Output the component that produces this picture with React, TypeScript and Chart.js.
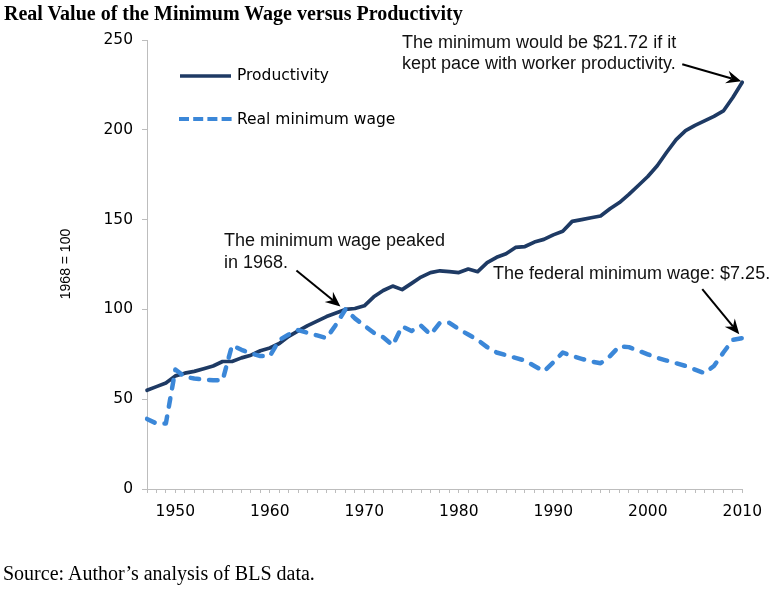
import React, { useEffect, useRef } from 'react';
import { Chart, registerables } from 'chart.js';

Chart.register(...registerables);

const years = [
  1947, 1948, 1949, 1950, 1951, 1952, 1953, 1954, 1955, 1956,
  1957, 1958, 1959, 1960, 1961, 1962, 1963, 1964, 1965, 1966,
  1967, 1968, 1969, 1970, 1971, 1972, 1973, 1974, 1975, 1976,
  1977, 1978, 1979, 1980, 1981, 1982, 1983, 1984, 1985, 1986,
  1987, 1988, 1989, 1990, 1991, 1992, 1993, 1994, 1995, 1996,
  1997, 1998, 1999, 2000, 2001, 2002, 2003, 2004, 2005, 2006,
  2007, 2008, 2009, 2010,
];

const productivity = [
  55, 57, 59, 63, 64.5, 65.5, 67, 68.5, 71, 71,
  73, 74.5, 77, 78.5, 81, 85, 88, 91, 93.5, 96,
  98, 100, 100.5, 102, 107, 110.5, 113, 111, 114.5, 118,
  120.5, 121.5, 121, 120.5, 122.5, 121, 126, 129, 131, 134.5,
  135, 137.5, 139, 141.5, 143.5, 149, 150, 151, 152, 156,
  159.5, 164, 169, 174, 180, 187.5, 194.5, 199.5, 202.5, 205,
  207.5, 210.5, 218, 226.5,
];

const realMinimumWage = [
  39, 36.5, 36.5, 66.5, 62.5, 61.5, 61, 60.5, 60.5, 80,
  77.5, 75.5, 74, 74, 83, 86, 88.5, 87, 85.5, 84,
  91.5, 100, 95, 91, 87, 84.5, 80, 90.5, 88, 91,
  86, 92.5, 92.5, 89, 86, 83, 79, 76, 74.5, 73,
  71.5, 68.5, 65.5, 70.5, 76, 74, 72.5, 71, 70, 74,
  79.5, 79, 77, 75, 73, 71.5, 70, 68.5, 66.5, 64.5,
  68.5, 76, 83, 84,
];

const xLabelYears = [1950, 1960, 1970, 1980, 1990, 2000, 2010];
const yMin = 0;
const yMax = 250;
const yStep = 50;

const seriesNames = ['Productivity', 'Real minimum wage'];
const titleText = 'Real Value of the Minimum Wage versus Productivity';
const sourceText = 'Source: Author\u2019s analysis of BLS data.';
const yAxisTitle = '1968 = 100';
const noteProductivity = ['The minimum would be $21.72 if it', 'kept pace with worker productivity.'];
const notePeak = ['The minimum wage peaked', 'in 1968.'];
const noteFederal = ['The federal minimum wage: $7.25.'];

const NAVY = '#1e3a64';
const BLUE = '#3b87d8';
const AXIS = '#bdbdbd';

function drawArrow(ctx: CanvasRenderingContext2D, x0: number, y0: number, x1: number, y1: number) {
  const ang = Math.atan2(y1 - y0, x1 - x0);
  const c = Math.cos(ang);
  const s = Math.sin(ang);
  const headLen = 15;
  const headW = 6.5;
  const notch = 10;
  ctx.save();
  ctx.strokeStyle = '#000';
  ctx.fillStyle = '#000';
  ctx.lineWidth = 2;
  ctx.beginPath();
  ctx.moveTo(x0, y0);
  ctx.lineTo(x1 - notch * c, y1 - notch * s);
  ctx.stroke();
  const bx = x1 - headLen * c;
  const by = y1 - headLen * s;
  ctx.beginPath();
  ctx.moveTo(x1, y1);
  ctx.lineTo(bx - headW * s, by + headW * c);
  ctx.lineTo(x1 - notch * c, y1 - notch * s);
  ctx.lineTo(bx + headW * s, by - headW * c);
  ctx.closePath();
  ctx.fill();
  ctx.restore();
}

const overlayPlugin = {
  id: 'overlay',
  afterDatasetsDraw(chart: any) {
    const ctx: CanvasRenderingContext2D = chart.ctx;
    const xs = chart.scales.x;
    const ys = chart.scales.y;
    ctx.save();

    // Legend
    ctx.lineCap = 'butt';
    ctx.strokeStyle = NAVY;
    ctx.lineWidth = 3.5;
    ctx.beginPath();
    ctx.moveTo(180, 76);
    ctx.lineTo(231, 76);
    ctx.stroke();
    ctx.strokeStyle = BLUE;
    ctx.lineWidth = 4;
    ctx.setLineDash([10, 4.2]);
    ctx.beginPath();
    ctx.moveTo(179, 119);
    ctx.lineTo(233, 119);
    ctx.stroke();
    ctx.setLineDash([]);
    ctx.fillStyle = '#000';
    ctx.font = '15.5px "DejaVu Sans", Verdana, sans-serif';
    ctx.textBaseline = 'middle';
    ctx.textAlign = 'left';
    ctx.fillText(seriesNames[0], 237, 76);
    ctx.fillText(seriesNames[1], 237, 120);

    // Y axis title
    ctx.save();
    ctx.translate(66, 264);
    ctx.rotate(-Math.PI / 2);
    ctx.textAlign = 'center';
    ctx.font = '14px "Liberation Sans", Arial, Helvetica, sans-serif';
    ctx.fillText(yAxisTitle, 0, 0);
    ctx.restore();

    // Annotation texts
    ctx.font = '18px "Liberation Sans", Arial, Helvetica, sans-serif';
    ctx.fillStyle = '#111';
    ctx.textAlign = 'left';
    ctx.fillText(noteProductivity[0], 402, 43);
    ctx.fillText(noteProductivity[1], 402, 64);
    ctx.fillText(notePeak[0], 224, 241);
    ctx.fillText(notePeak[1], 224, 263);
    ctx.fillText(noteFederal[0], 493, 274);

    // Arrows pointing at data points
    const iLast = years.length - 1;
    const iPeak = years.indexOf(1968);
    const pProd = { x: xs.getPixelForValue(iLast), y: ys.getPixelForValue(productivity[iLast]) };
    const pPeak = { x: xs.getPixelForValue(iPeak), y: ys.getPixelForValue(realMinimumWage[iPeak]) };
    const pMin = { x: xs.getPixelForValue(iLast), y: ys.getPixelForValue(realMinimumWage[iLast]) };

    const t1 = { x: pProd.x - 1, y: pProd.y - 1 };
    drawArrow(ctx, t1.x - 59, t1.y - 17, t1.x, t1.y);
    const t2 = { x: pPeak.x - 5, y: pPeak.y - 3 };
    drawArrow(ctx, t2.x - 44, t2.y - 36, t2.x, t2.y);
    const t3 = { x: pMin.x - 3, y: pMin.y - 4 };
    drawArrow(ctx, t3.x - 37, t3.y - 45, t3.x, t3.y);

    ctx.restore();
  },
};

export default function App() {
  const canvasRef = useRef<HTMLCanvasElement | null>(null);

  useEffect(() => {
    const canvas = canvasRef.current;
    if (!canvas) return;
    const chart = new Chart(canvas, {
      type: 'line',
      data: {
        labels: years,
        datasets: [
          {
            label: seriesNames[1],
            data: realMinimumWage,
            borderColor: BLUE,
            backgroundColor: BLUE,
            borderWidth: 4.5,
            borderDash: [8.5, 10],
            borderCapStyle: 'round',
            borderJoinStyle: 'round',
            pointRadius: 0,
            tension: 0,
            fill: false,
            order: 0,
          },
          {
            label: seriesNames[0],
            data: productivity,
            borderColor: NAVY,
            backgroundColor: NAVY,
            borderWidth: 3.7,
            borderCapStyle: 'round',
            borderJoinStyle: 'round',
            pointRadius: 0,
            tension: 0,
            fill: false,
            order: 1,
          },
        ],
      },
      options: {
        responsive: false,
        animation: false,
        devicePixelRatio: 1,
        layout: { padding: { left: 87, top: 40, right: 26, bottom: 61 } },
        plugins: {
          legend: { display: false },
          tooltip: { enabled: false },
          title: { display: false },
        },
        scales: {
          x: {
            type: 'category',
            offset: false,
            afterFit: (s: any) => { s.height = 40; },
            grid: { display: true, drawOnChartArea: false, drawTicks: true, tickLength: 4, color: AXIS },
            border: { display: true, color: AXIS, width: 1 },
            ticks: {
              autoSkip: false,
              maxRotation: 0,
              minRotation: 0,
              padding: 10,
              color: '#000',
              font: { family: '"DejaVu Sans", Verdana, sans-serif', size: 15.5 },
              callback: (_v: any, i: number) => (xLabelYears.includes(years[i]) ? String(years[i]) : ''),
            },
          },
          y: {
            type: 'linear',
            min: yMin,
            max: yMax,
            afterFit: (s: any) => { s.width = 60; },
            grid: { display: true, drawOnChartArea: false, drawTicks: true, tickLength: 5, color: AXIS },
            border: { display: true, color: AXIS, width: 1 },
            ticks: {
              stepSize: yStep,
              padding: 9,
              color: '#000',
              font: { family: '"DejaVu Sans", Verdana, sans-serif', size: 15.5 },
            },
          },
        },
      },
      plugins: [overlayPlugin],
    });
    return () => chart.destroy();
  }, []);

  return (
    <div style={{ position: 'fixed', left: 0, top: 0, width: 772, height: 590, background: '#fff', overflow: 'hidden' }}>
      <canvas ref={canvasRef} width={772} height={590} style={{ position: 'absolute', left: 0, top: 0, width: 772, height: 590 }} />
      <div
        style={{
          position: 'absolute', left: 4, top: 3, fontFamily: '"Liberation Serif", "Times New Roman", serif',
          fontWeight: 'bold', fontSize: 20, lineHeight: '20px', color: '#000', whiteSpace: 'nowrap',
        }}
      >
        {titleText}
      </div>
      <div
        style={{
          position: 'absolute', left: 3, top: 563, fontFamily: '"Liberation Serif", "Times New Roman", serif',
          fontSize: 20, lineHeight: '20px', color: '#000', whiteSpace: 'nowrap',
        }}
      >
        {sourceText}
      </div>
    </div>
  );
}
